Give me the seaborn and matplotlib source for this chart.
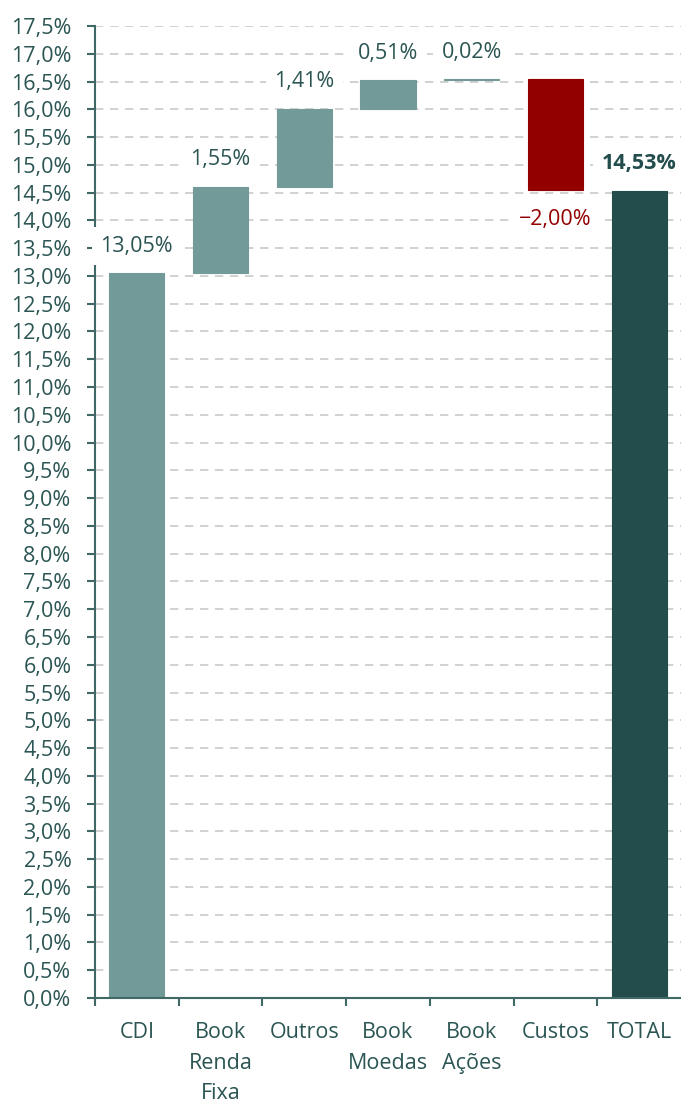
import numpy as np
import pandas as pd
import seaborn as sns
import matplotlib.pyplot as plt
from matplotlib.ticker import FixedLocator

# %% DATA

categories = ['CDI', 'Book\nRenda\nFixa', 'Outros', 'Book\nMoedas', 'Book\nAções', 'Custos', 'TOTAL']
steps = [13.05, 1.55, 1.41, 0.51, 0.02, -2.00]
total = 14.53
y_ticks = np.arange(0, 17.51, 0.5)

light = '#729a98'
dark = '#234d4c'
red = '#930000'
txt = '#2a5553'

# waterfall bases: running sum of the steps, total starts at zero
cum = np.cumsum(steps)
base = list(np.concatenate([[0], cum[:-1]])) + [0]
height = steps + [total]
colors = [light] * 5 + [red, dark]

data = pd.DataFrame({'Categoria': categories, 'Valor': height})

# %% PLOT

sns.set_style('white')
plt.rcParams['font.family'] = ['Open Sans', 'DejaVu Sans']
fs = 15.5

fig = plt.figure(figsize=(6.81, 11.03), dpi=100)
ax = fig.add_axes([95 / 681, 105 / 1103, 586 / 681, 972 / 1103])

sns.barplot(data=data, x='Categoria', y='Valor', order=categories,
            bottom=base, width=0.66, saturation=1, color=light, ax=ax, zorder=2)
for p, c in zip(ax.patches, colors):
    p.set_facecolor(c)
    p.set_edgecolor(c)
    p.set_linewidth(0.8)

ax.set_xlim(-0.5, 6.5)
ax.set_ylim(0, 17.5)
ax.set_yticks(y_ticks)
ax.set_yticklabels([f'{v:.1f}'.replace('.', ',') + '%' for v in y_ticks])
ax.xaxis.set_minor_locator(FixedLocator(np.arange(-0.5, 6, 1)))
ax.set_xlabel('')
ax.set_ylabel('')

ax.yaxis.grid(True, linestyle=(0, (5, 4)), color='#c9c9c9', linewidth=1.2)
ax.set_axisbelow(True)

spine_c = '#3f6866'
for side in ['top', 'right']:
    ax.spines[side].set_visible(False)
for side in ['left', 'bottom']:
    ax.spines[side].set_color(spine_c)
    ax.spines[side].set_linewidth(1.5)

ax.tick_params(axis='y', which='major', left=True, length=6, width=1.5, color=spine_c,
               pad=11, labelsize=fs, labelcolor=txt)
ax.tick_params(axis='x', which='major', length=0, pad=17, labelsize=fs, labelcolor=txt)
ax.tick_params(axis='x', which='minor', bottom=True, length=6, width=1.5, color=spine_c)
for t in ax.get_xticklabels():
    t.set_linespacing(1.62)
    t.set_verticalalignment('top')

# value labels
box = dict(facecolor='white', edgecolor='none', pad=6)
for i, v in enumerate(height):
    top = base[i] + v
    lab = f'{abs(v):.2f}'.replace('.', ',') + '%'
    if i == len(height) - 1:
        ax.text(i, top + 0.3, lab, ha='center', va='bottom', fontsize=fs,
                fontweight='bold', color=dark, bbox=box, zorder=4, clip_on=False)
    elif v < 0:
        ax.text(i, top - 0.33, '−' + lab, ha='center', va='top', fontsize=fs,
                color=red, bbox=box, zorder=4, clip_on=False)
    else:
        ax.text(i, top + 0.3, lab, ha='center', va='bottom', fontsize=fs,
                color=txt, bbox=box, zorder=4, clip_on=False)

fig.savefig('out.png', dpi=100)
